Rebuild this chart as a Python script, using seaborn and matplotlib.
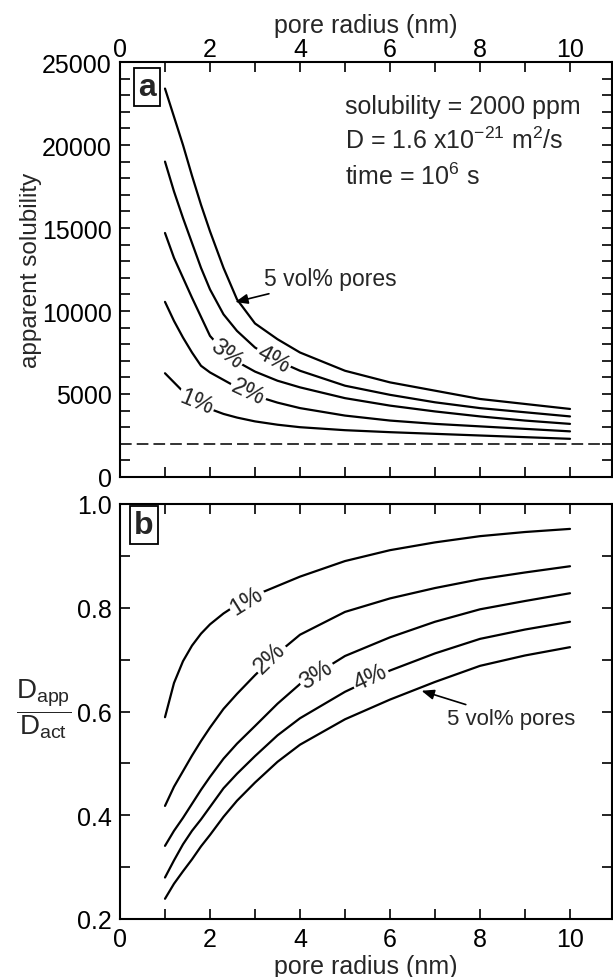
import numpy as np
import pandas as pd
import matplotlib
matplotlib.use('Agg')
import matplotlib.pyplot as plt
from matplotlib.ticker import MultipleLocator, FormatStrFormatter
import seaborn as sns

# ---------------- data ----------------
radius = [1.0, 1.2, 1.4, 1.6, 1.8, 2.0, 2.3, 2.6, 3.0, 3.5, 4.0, 5.0, 6.0, 7.0, 8.0, 9.0, 10.0]
porosity = ['1%', '2%', '3%', '4%', '5%']

sol_1 = [6250, 5700, 5150, 4750, 4400, 4100, 3800, 3580, 3350, 3150, 3000, 2820, 2700, 2600, 2500, 2400, 2300]
sol_2 = [10550, 9400, 8400, 7500, 6700, 6300, 5850, 5400, 4900, 4480, 4150, 3700, 3400, 3200, 3050, 2900, 2750]
sol_3 = [14700, 13200, 12000, 10800, 9650, 8500, 7600, 6950, 6350, 5800, 5400, 4750, 4300, 3950, 3650, 3400, 3200]
sol_4 = [19000, 17200, 15600, 14100, 12600, 11300, 9800, 8800, 7800, 7000, 6400, 5500, 4950, 4500, 4150, 3900, 3650]
sol_5 = [23400, 21700, 20000, 18150, 16400, 14800, 12600, 10700, 9250, 8300, 7500, 6400, 5700, 5200, 4700, 4400, 4100]
true_solubility = 2000

dr_1 = [0.589, 0.655, 0.697, 0.727, 0.750, 0.768, 0.789, 0.806, 0.824, 0.842, 0.860, 0.890, 0.911, 0.926, 0.938, 0.946, 0.952]
dr_2 = [0.418, 0.455, 0.485, 0.515, 0.543, 0.569, 0.605, 0.634, 0.670, 0.712, 0.748, 0.792, 0.818, 0.838, 0.855, 0.868, 0.880]
dr_3 = [0.341, 0.370, 0.395, 0.422, 0.449, 0.474, 0.509, 0.538, 0.572, 0.615, 0.653, 0.707, 0.743, 0.773, 0.797, 0.813, 0.828]
dr_4 = [0.280, 0.313, 0.344, 0.370, 0.392, 0.416, 0.452, 0.480, 0.514, 0.554, 0.587, 0.638, 0.679, 0.712, 0.740, 0.758, 0.773]
dr_5 = [0.239, 0.268, 0.292, 0.315, 0.340, 0.362, 0.397, 0.428, 0.463, 0.503, 0.536, 0.585, 0.623, 0.657, 0.688, 0.708, 0.724]

xticks_labels = [0, 2, 4, 6, 8, 10]
ya_ticks = [0, 5000, 10000, 15000, 20000, 25000]
yb_ticks = [0.2, 0.4, 0.6, 0.8, 1.0]

sol_series = [sol_1, sol_2, sol_3, sol_4, sol_5]
dr_series = [dr_1, dr_2, dr_3, dr_4, dr_5]

df_a = pd.concat([pd.DataFrame({'r': radius, 'v': s, 'pct': p}) for s, p in zip(sol_series, porosity)])
df_b = pd.concat([pd.DataFrame({'r': radius, 'v': s, 'pct': p}) for s, p in zip(dr_series, porosity)])

# ---------------- style ----------------
sns.set_theme(style='ticks')
plt.rcParams['font.family'] = ['Liberation Sans', 'DejaVu Sans']
plt.rcParams['mathtext.fontset'] = 'custom'
plt.rcParams['mathtext.rm'] = 'Liberation Sans'
plt.rcParams['mathtext.it'] = 'Liberation Sans:italic'
plt.rcParams['mathtext.bf'] = 'Liberation Sans:bold'

W, H = 613, 978
fig = plt.figure(figsize=(W / 100, H / 100), dpi=100)
left = 120 / W
width = (612 - 120) / W
ax_a = fig.add_axes([left, 1 - 478 / H, width, 415 / H])
ax_b = fig.add_axes([left, 1 - 920 / H, width, 415 / H])

FS = 18
black5 = ['black'] * 5

sns.lineplot(data=df_a, x='r', y='v', hue='pct', palette=black5, legend=False,
             estimator=None, sort=False, lw=1.6, ax=ax_a)
sns.lineplot(data=df_b, x='r', y='v', hue='pct', palette=black5, legend=False,
             estimator=None, sort=False, lw=1.6, ax=ax_b)

xmax = (612 - 120) / 45.0
ax_a.axhline(true_solubility, color='#333333', lw=1.4, dashes=(6, 2.6))

for ax in (ax_a, ax_b):
    ax.set_xlim(0, xmax)
    ax.xaxis.set_major_locator(MultipleLocator(2))
    ax.xaxis.set_minor_locator(MultipleLocator(1))
    ax.tick_params(which='both', direction='in', length=7, width=1.2,
                   top=True, bottom=True, left=True, right=True,
                   labelsize=FS, pad=6, colors='black')
    for sp in ax.spines.values():
        sp.set_linewidth(1.5)
        sp.set_color('black')
        sp.set_visible(True)
    ax.set_ylabel('')

# panel a
ax_a.set_ylim(0, 25000)
ax_a.yaxis.set_major_locator(MultipleLocator(5000))
ax_a.yaxis.set_minor_locator(MultipleLocator(1000))
ax_a.set_xticks(xticks_labels)
ax_a.set_yticks(ya_ticks)
ax_a.tick_params(axis='x', which='both', labeltop=True, labelbottom=False, pad=1)
ax_a.xaxis.set_label_position('top')
ax_a.set_xlabel('pore radius (nm)', fontsize=FS, labelpad=3)

# panel b
ax_b.set_ylim(0.2, 1.0)
ax_b.yaxis.set_major_locator(MultipleLocator(0.2))
ax_b.yaxis.set_minor_locator(MultipleLocator(0.1))
ax_b.yaxis.set_major_formatter(FormatStrFormatter('%.1f'))
ax_b.set_xticks(xticks_labels)
ax_b.set_yticks(yb_ticks)
ax_b.set_xlabel('pore radius (nm)', fontsize=FS, labelpad=2)

fig.text(31 / W, 1 - 270 / H, 'apparent solubility', rotation=90, fontsize=17.5,
         ha='center', va='center')
fig.text(44 / W, 1 - 709 / H,
         r'$\dfrac{\mathrm{D}_{\mathrm{app}}}{\mathrm{D}_{\mathrm{act}}}$',
         fontsize=20, ha='center', va='center')

# panel letters
box = dict(boxstyle='square,pad=0.12', fc='white', ec='black', lw=1.3)
ax_a.text(0.055, 0.939, 'a', transform=ax_a.transAxes, fontsize=23, fontweight='bold',
          ha='center', va='center', bbox=box)
ax_b.text(0.049, 0.949, 'b', transform=ax_b.transAxes, fontsize=23, fontweight='bold',
          ha='center', va='center', bbox=box)

# info text
ax_a.text(5.0, 22350, 'solubility = 2000 ppm', fontsize=FS, ha='left', va='center')
ax_a.text(5.0, 20300, r'D = 1.6 x10$^{-21}$ m$^{2}$/s', fontsize=FS, ha='left', va='center')
ax_a.text(5.0, 18150, r'time = 10$^{6}$ s', fontsize=FS, ha='left', va='center')

arrow = dict(arrowstyle='-|>,head_length=0.5,head_width=0.2', color='black', lw=1.2,
             mutation_scale=15, shrinkA=1, shrinkB=0)
ax_a.annotate('5 vol% pores', xy=(2.56, 10540), xytext=(3.2, 11950), fontsize=16.5,
              ha='left', va='center', arrowprops=arrow)
ax_b.annotate('5 vol% pores', xy=(6.7, 0.640), xytext=(7.27, 0.586), fontsize=16,
              ha='left', va='center', arrowprops=arrow)

# inline curve labels
lab_box = dict(boxstyle='square,pad=0.08', fc='white', ec='none')
labels_a = [('1%', 1.70, 4520, -22), ('2%', 2.85, 5120, -25),
            ('3%', 2.37, 7430, -37), ('4%', 3.41, 7130, -29)]
for t, x, y, rot in labels_a:
    ax_a.text(x, y, t, fontsize=FS - 1, rotation=rot, ha='center', va='center',
              rotation_mode='anchor', bbox=lab_box)
labels_b = [('1%', 2.82, 0.814, 32), ('2%', 3.33, 0.704, 44),
            ('3%', 4.37, 0.672, 33), ('4%', 5.56, 0.666, 25)]
for t, x, y, rot in labels_b:
    ax_b.text(x, y, t, fontsize=FS - 1, rotation=rot, ha='center', va='center',
              rotation_mode='anchor', bbox=lab_box)

fig.savefig('out.png', dpi=100)
